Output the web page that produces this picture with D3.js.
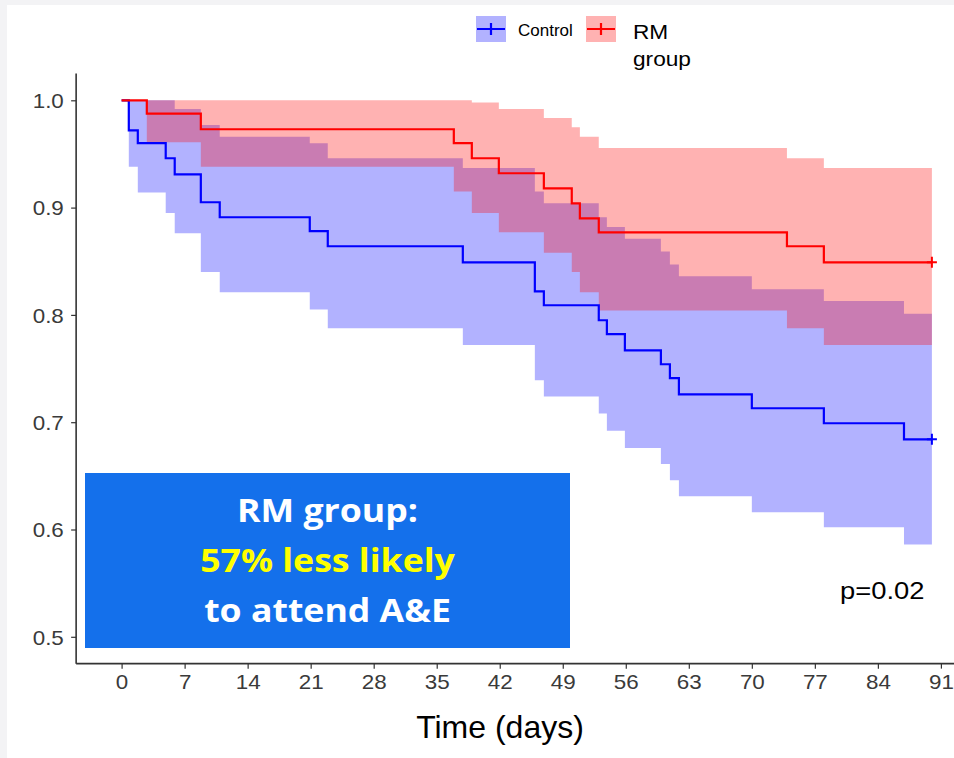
<!DOCTYPE html>
<html>
<head>
<meta charset="utf-8">
<script src="https://cdn.jsdelivr.net/npm/d3@7"></script>
<style>
  html, body { margin: 0; padding: 0; background: #fff; }
  svg { display: block; }
</style>
</head>
<body>
<svg id="chart" width="954" height="758"></svg>
<script>
// ---------------- DATA ----------------
// Control group: event times (days), survival, 95% CI upper / lower (value after each time)
const ctrlTime  = [0, 0.8, 1.8, 4.9, 5.9, 8.8, 10.9, 20.9, 22.9, 37.9, 45.9, 46.9, 53.0, 53.9, 55.9, 59.9, 60.9, 61.9, 70.0, 78.0, 86.9];
const ctrlSurv  = [1.0, 0.972, 0.960, 0.946, 0.931, 0.905, 0.891, 0.878, 0.864, 0.849, 0.822, 0.809, 0.795, 0.782, 0.767, 0.754, 0.741, 0.726, 0.713, 0.699, 0.684];
const ctrlUpper = [1.0, 1.0, 1.0, 1.0, 0.992, 0.977, 0.966, 0.960, 0.946, 0.937, 0.915, 0.904, 0.891, 0.882, 0.871, 0.859, 0.847, 0.836, 0.824, 0.813, 0.801];
const ctrlLower = [1.0, 0.938, 0.914, 0.895, 0.876, 0.840, 0.821, 0.805, 0.7875, 0.772, 0.739, 0.724, 0.708, 0.692, 0.676, 0.661, 0.646, 0.631, 0.616, 0.602, 0.586];

// RM group
const rmTime  = [0, 2.8, 8.8, 36.9, 38.9, 41.9, 46.9, 50.0, 50.9, 53.0, 73.9, 78.0];
const rmSurv  = [1.0, 0.9875, 0.973, 0.960, 0.946, 0.932, 0.918, 0.904, 0.890, 0.877, 0.864, 0.849];
const rmUpper = [1.0, 1.0, 1.0, 1.0, 0.998, 0.992, 0.9835, 0.975, 0.966, 0.9556, 0.946, 0.937];
const rmLower = [1.0, 0.961, 0.938, 0.915, 0.895, 0.877, 0.858, 0.840, 0.821, 0.804, 0.7875, 0.772];

const endTime = 90.0;   // last follow-up (censored) time for both groups

const groupNames  = ["Control", "RM group"];
const xTickValues = [0, 7, 14, 21, 28, 35, 42, 49, 56, 63, 70, 77, 84, 91];
const yTickValues = [0.5, 0.6, 0.7, 0.8, 0.9, 1.0];
const xTitle = "Time (days)";
const pLabel = "p=0.02";
const boxLines = ["RM group:", "57% less likely", "to attend A&E"];

// ---------------- LAYOUT ----------------
const W = 954, H = 758;
const svg = d3.select("#chart");
const STRETCH = 1.12; // reference text is slightly wide

// frame
svg.append("rect").attr("x", 0).attr("y", 0).attr("width", W).attr("height", H).attr("fill", "#f3f3f5");
svg.append("rect").attr("x", 7).attr("y", 5).attr("width", W - 7).attr("height", H - 5).attr("fill", "#ffffff");

const x = d3.scaleLinear().domain([0, 91]).range([121.6, 940.9]);
const y = d3.scaleLinear().domain([0.5, 1.0]).range([636.8, 100.3]);
const xLo = -5.05, yLo = 0.475, yHi = 1.025;

const series = [
  {name: groupNames[0], color: "#0000ff", t: ctrlTime, s: ctrlSurv, u: ctrlUpper, l: ctrlLower},
  {name: groupNames[1], color: "#ff0000", t: rmTime,   s: rmSurv,   u: rmUpper,   l: rmLower}
];
series.forEach(g => {
  g.pts = g.t.map((t, i) => ({t, s: g.s[i], u: g.u[i], l: g.l[i]}));
  const last = g.pts[g.pts.length - 1];
  g.pts.push({t: endTime, s: last.s, u: last.u, l: last.l});
});

const area = d3.area().curve(d3.curveStepAfter)
  .x(d => x(d.t)).y0(d => y(d.l)).y1(d => y(d.u));
const line = d3.line().curve(d3.curveStepAfter)
  .x(d => x(d.t)).y(d => y(d.s));

// bands
svg.append("g").selectAll("path").data(series).join("path")
  .attr("d", d => area(d.pts))
  .attr("fill", d => d.color).attr("fill-opacity", 0.3).attr("stroke", "none");

// lines
svg.append("g").selectAll("path").data(series).join("path")
  .attr("d", d => line(d.pts))
  .attr("fill", "none").attr("stroke", d => d.color).attr("stroke-width", 2.2);

// censor marks at end
svg.append("g").selectAll("path").data(series).join("path")
  .attr("d", d => {
    const cx = x(endTime), cy = y(d.pts[d.pts.length - 1].s);
    return `M${cx - 5},${cy}H${cx + 5}M${cx},${cy - 5.5}V${cy + 5.5}`;
  })
  .attr("fill", "none").attr("stroke", d => d.color).attr("stroke-width", 2);

// axes
const axisColor = "#333";
const yAxis = svg.append("g").attr("transform", `translate(${x(xLo)},0)`)
  .call(d3.axisLeft(y).tickValues(yTickValues).tickFormat(d3.format(".1f")).tickSize(5).tickPadding(6));
yAxis.select(".domain").remove();
yAxis.selectAll(".tick line").attr("stroke", axisColor).attr("stroke-width", 1.2);
yAxis.selectAll(".tick text").attr("font-family", "Liberation Sans, Arial, sans-serif")
  .attr("font-size", 20).attr("fill", "#3a3a3a").attr("dy", "0.36em")
  .attr("transform", `scale(${STRETCH},1)`);

const xAxis = svg.append("g").attr("transform", `translate(0,${y(yLo)})`)
  .call(d3.axisBottom(x).tickValues(xTickValues).tickFormat(d3.format("d")).tickSize(5).tickPadding(6));
xAxis.select(".domain").remove();
xAxis.selectAll(".tick line").attr("stroke", axisColor).attr("stroke-width", 1.2);
xAxis.selectAll(".tick text").attr("font-family", "Liberation Sans, Arial, sans-serif")
  .attr("font-size", 20).attr("fill", "#3a3a3a")
  .attr("transform", `scale(${STRETCH},1)`);

svg.append("line").attr("x1", x(xLo)).attr("x2", x(xLo)).attr("y1", y(yHi)).attr("y2", y(yLo))
  .attr("stroke", axisColor).attr("stroke-width", 1.6);
svg.append("line").attr("x1", x(xLo)).attr("x2", W).attr("y1", y(yLo)).attr("y2", y(yLo))
  .attr("stroke", axisColor).attr("stroke-width", 1.6);

function stext(px, py, str, size, opts = {}) {
  return svg.append("text")
    .attr("transform", `translate(${px},${py}) scale(${opts.sx || STRETCH},1)`)
    .attr("font-family", opts.family || "Liberation Sans, Arial, sans-serif")
    .attr("font-size", size)
    .attr("font-weight", opts.weight || "normal")
    .attr("text-anchor", opts.anchor || "start")
    .attr("fill", opts.fill || "#000")
    .text(str);
}

// x title
stext(500, 738, xTitle, 32, {anchor: "middle", sx: 1.0});

// p value
stext(840, 599, pLabel, 24, {sx: 1.14});

// legend
const legendItems = [
  {key: 476, label: 518, color: series[0].color, lines: ["Control"], size: 17, ly: [36], sx: 1.0},
  {key: 586, label: 633, color: series[1].color, lines: ["RM", "group"], size: 21, ly: [39, 66], sx: 1.08}
];
legendItems.forEach(it => {
  const kx = it.key, ky = 16, kw = 30, kh = 26;
  svg.append("rect").attr("x", kx).attr("y", ky).attr("width", kw).attr("height", kh)
    .attr("fill", it.color).attr("fill-opacity", 0.3);
  svg.append("path").attr("d", `M${kx + 1},${ky + kh / 2}H${kx + kw - 1}M${kx + kw / 2},${ky + kh / 2 - 6}V${ky + kh / 2 + 6}`)
    .attr("stroke", it.color).attr("stroke-width", 2.2).attr("fill", "none");
  it.lines.forEach((s, i) => stext(it.label, it.ly[i], s, it.size, {sx: it.sx}));
});

// annotation box
svg.append("rect").attr("x", 85).attr("y", 473).attr("width", 485).attr("height", 175).attr("fill", "#1470eb");
const boxFont = "Open Sans, Lato, sans-serif";
stext(327.5, 522, boxLines[0], 33, {anchor: "middle", weight: "bold", fill: "#ffffff", family: boxFont, sx: 1.08});
stext(327.5, 572, boxLines[1], 33, {anchor: "middle", weight: "bold", fill: "#ffff00", family: boxFont, sx: 1.08});
stext(327.5, 622, boxLines[2], 33, {anchor: "middle", weight: "bold", fill: "#ffffff", family: boxFont, sx: 1.08});
</script>
</body>
</html>
